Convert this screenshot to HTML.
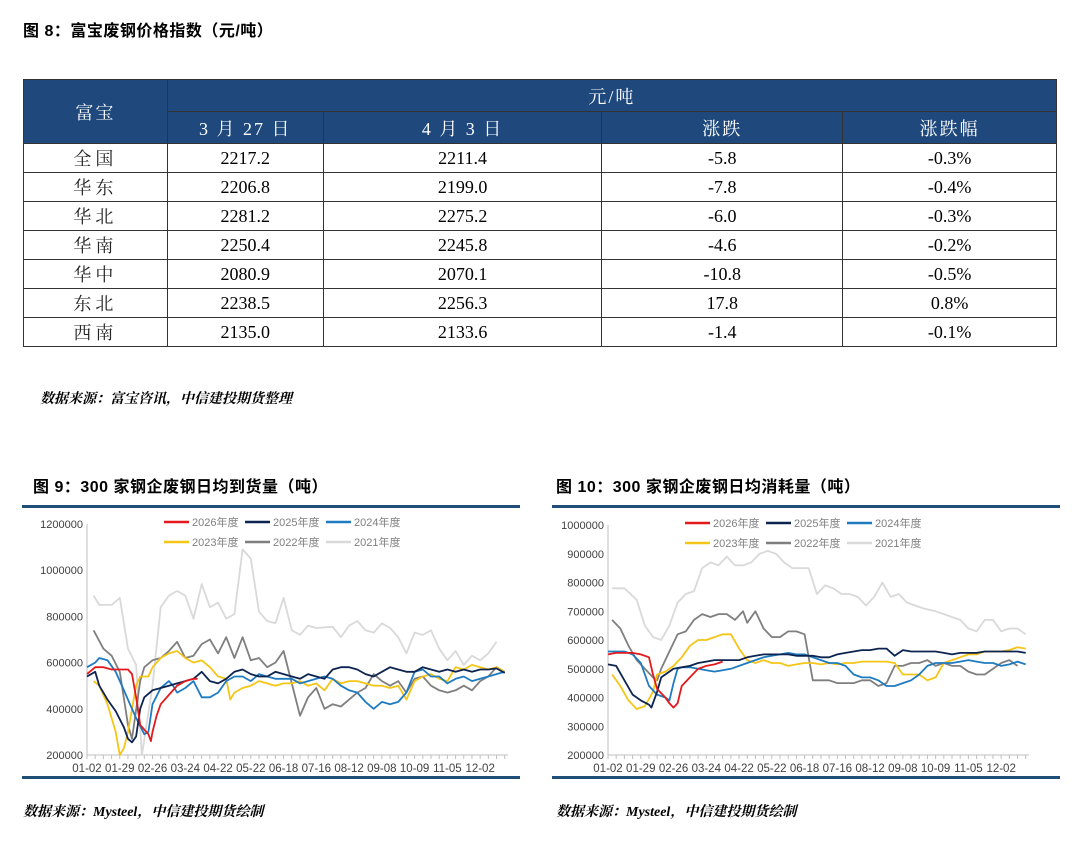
<!DOCTYPE html>
<html><head><meta charset="utf-8">
<style>
body{margin:0;width:1080px;height:846px;background:#fff;position:relative;overflow:hidden;font-family:"Liberation Serif","Noto Serif CJK SC",serif;color:#000}
.t{position:absolute;font-family:"Liberation Sans","Noto Sans CJK SC",sans-serif;font-weight:bold;font-size:16px;letter-spacing:0.5px}
.src{position:absolute;font-family:"Liberation Serif","Noto Serif CJK SC",serif;font-weight:bold;font-style:italic;font-size:14px}
table{position:absolute;left:23px;top:79px;border-collapse:collapse;width:1034px}
td{border:1px solid #333;text-align:center;font-size:18px;height:28px;padding:0}
td.r{letter-spacing:4px;font-family:"Liberation Serif","Noto Serif CJK SC",serif;color:#222}
.h td{background:#1f497d;color:#fff;font-family:"Liberation Serif","Noto Serif CJK SC",serif;font-size:18px;height:31px;letter-spacing:2px}
.frame{position:absolute;border-top:3px solid #1f4e79;border-bottom:3px solid #1f4e79}
</style></head><body>
<div class="t" style="left:23px;top:17px">图 8：富宝废钢价格指数（元/吨）</div>
<table>
<colgroup><col style="width:144px"><col style="width:156px"><col style="width:279px"><col style="width:241px"><col style="width:214px"></colgroup>
<tr class="h"><td rowspan="2">富宝</td><td colspan="4">元/吨</td></tr>
<tr class="h"><td>3 月 27 日</td><td>4 月 3 日</td><td>涨跌</td><td>涨跌幅</td></tr>
<tr><td class="r">全国</td><td>2217.2</td><td>2211.4</td><td>-5.8</td><td>-0.3%</td></tr>
<tr><td class="r">华东</td><td>2206.8</td><td>2199.0</td><td>-7.8</td><td>-0.4%</td></tr>
<tr><td class="r">华北</td><td>2281.2</td><td>2275.2</td><td>-6.0</td><td>-0.3%</td></tr>
<tr><td class="r">华南</td><td>2250.4</td><td>2245.8</td><td>-4.6</td><td>-0.2%</td></tr>
<tr><td class="r">华中</td><td>2080.9</td><td>2070.1</td><td>-10.8</td><td>-0.5%</td></tr>
<tr><td class="r">东北</td><td>2238.5</td><td>2256.3</td><td>17.8</td><td>0.8%</td></tr>
<tr><td class="r">西南</td><td>2135.0</td><td>2133.6</td><td>-1.4</td><td>-0.1%</td></tr>
</table>
<div class="src" style="left:40px;top:388px">数据来源：富宝咨讯，中信建投期货整理</div>
<div class="t" style="left:33px;top:473px">图 9：300 家钢企废钢日均到货量（吨）</div>
<div class="t" style="left:556px;top:473px">图 10：300 家钢企废钢日均消耗量（吨）</div>
<div class="frame" style="left:22px;top:505px;width:498px;height:268px"></div>
<div class="frame" style="left:552px;top:505px;width:508px;height:268px"></div>
<svg id="c1" style="position:absolute;left:0;top:0" width="1080" height="846"></svg>
<div class="src" style="left:23px;top:801px">数据来源：Mysteel，中信建投期货绘制</div>
<div class="src" style="left:556px;top:801px">数据来源：Mysteel，中信建投期货绘制</div>
<script>
const xLabels=["01-02","01-29","02-26","03-24","04-22","05-22","06-18","07-16","08-12","09-08","10-09","11-05","12-02"];
const seriesNames=["2026年度","2025年度","2024年度","2023年度","2022年度","2021年度"];
const seriesColors=["#e31a1c","#0d2350","#1f7bc0","#f5c518","#7f7f7f","#d9d9d9"];
const yTicks1=[200000,400000,600000,800000,1000000,1200000];
const yTicks2=[200000,300000,400000,500000,600000,700000,800000,900000,1000000];
// chart 9 arrival: [week, value]
const arr2021=[[0.8,890000],[1.5,850000],[3,850000],[4,880000],[5,660000],[6,590000],[6.7,200000],[8,500000],[9,840000],[10,890000],[11,910000],[12,890000],[13,790000],[14,940000],[15,840000],[16,860000],[17,790000],[18,810000],[19,1090000],[20,1050000],[21,820000],[22,780000],[23,770000],[24,880000],[25,740000],[26,720000],[27,760000],[28,750000],[30,755000],[31,710000],[32,760000],[33,780000],[34,740000],[35,730000],[36,770000],[37,750000],[38,710000],[39,640000],[40,730000],[41,720000],[42,740000],[43,660000],[44,610000],[45,650000],[46,590000],[47,630000],[48,610000],[49,640000],[50,690000]];
const arr2022=[[0.8,740000],[2,660000],[3,630000],[4,560000],[5,330000],[5.5,270000],[6.5,520000],[7,580000],[8,610000],[9,620000],[10,650000],[11,690000],[12,620000],[13,630000],[14,680000],[15,700000],[16,640000],[17,710000],[18,620000],[19,710000],[20,610000],[21,620000],[22,580000],[23,600000],[24,650000],[25,510000],[26,370000],[27,450000],[28,490000],[29,400000],[30,420000],[31,410000],[32,440000],[33,470000],[34,490000],[35,550000],[36,520000],[37,500000],[38,520000],[39,470000],[40,530000],[41,540000],[42,500000],[43,480000],[44,470000],[45,480000],[46,500000],[47,480000],[48,520000],[49,540000],[50,580000],[51,560000]];
const arr2023=[[0.8,520000],[1.5,500000],[2.5,420000],[3.5,300000],[4,200000],[4.5,230000],[5,300000],[6,500000],[6.5,540000],[7.5,540000],[8,580000],[9,620000],[10,640000],[11,650000],[12,620000],[13,600000],[14,610000],[15,580000],[16,540000],[17,530000],[17.5,440000],[18,470000],[19,490000],[20,500000],[21,520000],[22,510000],[23,500000],[24,510000],[25,510000],[26,520000],[27,500000],[28,510000],[29,480000],[30,530000],[31,510000],[32,520000],[33,520000],[34,510000],[35,500000],[36,500000],[37,490000],[38,500000],[39,440000],[40,520000],[41,540000],[42,550000],[43,530000],[44,520000],[45,580000],[46,570000],[47,590000],[48,580000],[49,570000],[50,580000],[51,560000]];
const arr2024=[[0,580000],[1,600000],[1.5,620000],[2.5,610000],[3.5,560000],[4.5,480000],[5.5,400000],[6,360000],[7,290000],[7.5,300000],[8,420000],[9,490000],[10,520000],[10.5,500000],[11,470000],[12,490000],[13,520000],[14,450000],[15,450000],[16,470000],[17,520000],[18,540000],[19,540000],[20,520000],[21,550000],[22,540000],[23,530000],[24,530000],[25,530000],[26,510000],[27,520000],[28,530000],[29,540000],[30,530000],[31,500000],[32,480000],[33,470000],[34,430000],[35,400000],[36,430000],[37,420000],[38,430000],[39,470000],[40,560000],[41,570000],[42,540000],[43,540000],[44,510000],[45,530000],[46,540000],[47,520000],[48,530000],[49,540000],[50,550000],[51,560000]];
const arr2025=[[0,540000],[1,560000],[1.5,500000],[2.5,440000],[3.5,390000],[4.5,320000],[5,270000],[5.5,255000],[6,280000],[6.5,400000],[7,450000],[8,480000],[9,490000],[10,500000],[11,510000],[12,520000],[13,530000],[14,560000],[15,520000],[16,510000],[17,530000],[18,560000],[19,570000],[20,550000],[21,540000],[22,540000],[23,560000],[24,550000],[25,540000],[26,530000],[27,550000],[28,540000],[29,530000],[30,570000],[31,580000],[32,580000],[33,570000],[34,550000],[35,540000],[36,560000],[37,580000],[38,570000],[39,560000],[40,560000],[41,580000],[42,570000],[43,560000],[44,570000],[45,560000],[46,570000],[47,560000],[48,570000],[49,570000],[50,575000],[51,555000]];
const arr2026=[[0,550000],[1,580000],[2,580000],[3,570000],[4,570000],[5,570000],[5.5,550000],[6,450000],[6.5,330000],[7.5,290000],[7.8,260000],[8,300000],[8.5,370000],[9,420000],[10,460000],[11,500000],[12,520000],[13,530000],[13.5,530000]];
// chart 10 consumption
const con2021=[[0.5,780000],[2,780000],[3.5,740000],[4.5,650000],[5.5,610000],[6.5,600000],[7.5,650000],[8.5,730000],[9.5,760000],[10.5,770000],[11.5,850000],[12.5,870000],[13.5,860000],[14.5,890000],[15.5,860000],[16.5,860000],[17.5,870000],[18.5,900000],[19.5,910000],[20.5,900000],[21.5,870000],[22.5,850000],[23.5,850000],[24.5,850000],[25.5,760000],[26.5,790000],[27.5,780000],[28.5,760000],[29.5,760000],[30.5,750000],[31.5,720000],[32.5,750000],[33.5,800000],[34.5,750000],[35.5,760000],[36.5,730000],[37.5,720000],[38.5,710000],[40,700000],[41,690000],[42,680000],[43,670000],[44,640000],[45,630000],[46,670000],[47,670000],[48,630000],[49,640000],[50,640000],[51,620000]];
const con2022=[[0.5,670000],[1.5,640000],[2.5,580000],[3.5,530000],[4.5,500000],[5.5,470000],[6,460000],[6.5,500000],[7.5,560000],[8.5,620000],[9.5,630000],[10.5,670000],[11.5,690000],[12.5,680000],[13.5,690000],[14.5,690000],[15.5,670000],[16.5,700000],[17,660000],[18,700000],[19,640000],[20,610000],[21,610000],[22,630000],[23,630000],[24,620000],[25,460000],[26,460000],[27,460000],[28,450000],[29,450000],[30,450000],[31,460000],[32,460000],[33,440000],[34,450000],[35,510000],[36,510000],[37,520000],[38,520000],[39,530000],[40,510000],[41,520000],[42,510000],[43,510000],[44,490000],[45,480000],[46,480000],[47,500000],[48,520000],[49,530000],[50,510000]];
const con2023=[[0.5,480000],[1.5,440000],[2.5,390000],[3.5,360000],[4.5,370000],[5.5,420000],[6,480000],[7,490000],[8,510000],[9,540000],[10,580000],[11,600000],[12,600000],[13,610000],[14,620000],[15,620000],[16,570000],[17,530000],[18,520000],[19,530000],[20,520000],[21,520000],[22,510000],[23,515000],[24,520000],[25,520000],[26,515000],[27,520000],[28,515000],[29,520000],[30,520000],[31,525000],[32,525000],[33,525000],[34,525000],[35,520000],[36,480000],[37,480000],[38,480000],[39,460000],[40,470000],[41,520000],[42,530000],[43,540000],[44,550000],[45,550000],[46,560000],[47,560000],[48,560000],[49,565000],[50,575000],[51,570000]];
const con2024=[[0,560000],[1,560000],[2,560000],[3,550000],[4,520000],[5,440000],[6,410000],[7,400000],[7.5,390000],[8,450000],[8.5,500000],[9,505000],[10,505000],[11,500000],[12,495000],[13,490000],[14,495000],[15,500000],[16,510000],[17,520000],[18,530000],[19,540000],[20,545000],[21,550000],[22,555000],[23,550000],[24,550000],[25,540000],[26,530000],[27,520000],[28,520000],[29,510000],[30,480000],[31,470000],[32,470000],[33,460000],[34,440000],[35,440000],[36,450000],[37,460000],[38,480000],[39,510000],[40,520000],[41,520000],[42,520000],[43,525000],[44,530000],[45,525000],[46,520000],[47,520000],[48,510000],[49,515000],[50,525000],[51,515000]];
const con2025=[[0,515000],[1,510000],[2,460000],[3,410000],[4,390000],[5,375000],[5.3,365000],[6,420000],[6.5,470000],[7,480000],[8,500000],[9,505000],[10,510000],[11,520000],[12,525000],[13,530000],[14,530000],[15,530000],[16,530000],[17,540000],[18,545000],[19,550000],[20,550000],[21,550000],[22,550000],[23,545000],[24,545000],[25,545000],[26,540000],[27,540000],[28,550000],[29,555000],[30,560000],[31,565000],[32,565000],[33,570000],[34,570000],[35,545000],[36,565000],[37,560000],[38,560000],[39,560000],[40,560000],[41,555000],[42,550000],[43,555000],[44,555000],[45,555000],[46,560000],[47,560000],[48,560000],[49,560000],[50,560000],[51,555000]];
const con2026=[[0,550000],[1,555000],[2,555000],[3,555000],[4,550000],[5,540000],[5.5,480000],[6,430000],[7,400000],[7.5,380000],[8,365000],[8.5,380000],[9,440000],[10,470000],[11,500000],[12,510000],[13,515000],[14,525000]];

const svg=document.getElementById('c1');
const NS='http://www.w3.org/2000/svg';
function mk(tag,attrs,parent){const e=document.createElementNS(NS,tag);for(const k in attrs)e.setAttribute(k,attrs[k]);(parent||svg).appendChild(e);return e;}
function drawChart(id,ax,ay0,ay1,vmin,vmax,xEnd,ticks,series,legX){
  const g=mk('g',{});
  
  
  const pxw=(xEnd-ax)/51.4;
  const X=w=>ax+w*pxw;
  const Y=v=>ay1-(v-vmin)/(vmax-vmin)*(ay1-ay0);
  const yl=mk('line',{x1:ax,y1:ay0,x2:ax,y2:ay1,stroke:'#bfbfbf','stroke-width':1},g);
  
  
  const xl=mk('line',{x1:ax,y1:ay1,x2:xEnd,y2:ay1,stroke:'#bfbfbf','stroke-width':1},g);
  
  
  for(let w=0;w<=51;w+=1){mk('line',{x1:X(w),y1:ay1,x2:X(w),y2:ay1+4,stroke:'#bfbfbf','stroke-width':1},g);}
  ticks.forEach(v=>{
    const t=mk('text',{x:ax-4,y:Y(v)+4,'text-anchor':'end','font-size':11,fill:'#404040','font-family':'Liberation Sans, sans-serif'},g);
    t.textContent=v;
    
    
  });
  xLabels.forEach((l,i)=>{
    const t=mk('text',{x:X(i*4),y:ay1+17,'text-anchor':'middle','font-size':11.5,fill:'#404040','font-family':'Liberation Sans, sans-serif'},g);
    t.textContent=l;
    
    
  });
  const order=[5,4,3,2,1,0];
  order.forEach(i=>{
    const pts=series[i].map(p=>X(p[0]).toFixed(1)+','+Y(p[1]).toFixed(1)).join(' ');
    const pl=mk('polyline',{points:pts,fill:'none',stroke:seriesColors[i],'stroke-width':1.8,'stroke-linejoin':'round'},g);
    
    
  });
  seriesNames.forEach((n,i)=>{
    const lx=legX+(i%3)*81, ly=ay0-2+Math.floor(i/3)*20;
    const lg=mk('g',{},g);
    
    
    mk('line',{x1:lx,y1:ly,x2:lx+25,y2:ly,stroke:seriesColors[i],'stroke-width':2.5},lg);
    const t=mk('text',{x:lx+28,y:ly+4,'font-size':11,fill:'#808080','font-family':'Liberation Sans, Noto Sans CJK SC, sans-serif'},lg);
    t.textContent=n;
  });
}
drawChart('chart9-arrivals',87,524,755,200000,1200000,508,yTicks1,[arr2026,arr2025,arr2024,arr2023,arr2022,arr2021],164);
drawChart('chart10-consumption',608,525,755,200000,1000000,1029,yTicks2,[con2026,con2025,con2024,con2023,con2022,con2021],685);
</script>
</body></html>
